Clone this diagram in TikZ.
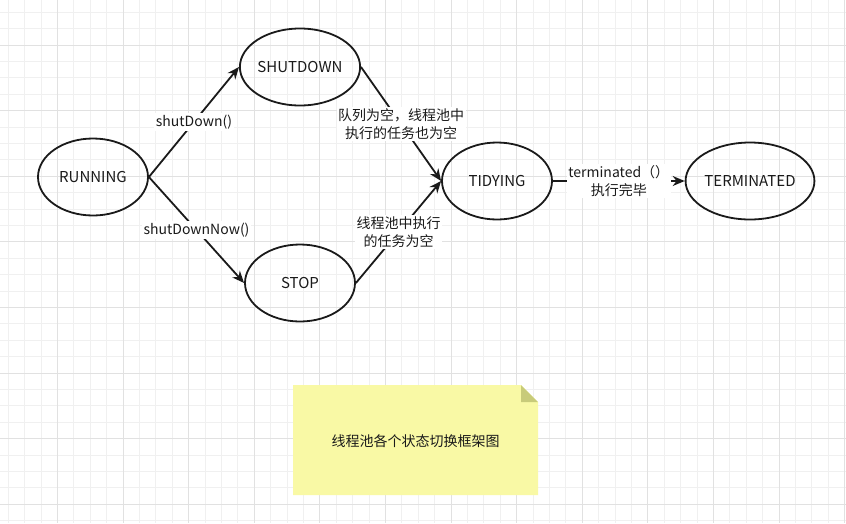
\documentclass[tikz,border=0pt]{standalone}
\usepackage{fontspec}
\setmainfont{Noto Sans CJK SC}
\usetikzlibrary{shapes.geometric,arrows.meta}
\definecolor{gridminor}{RGB}{240,240,240}
\definecolor{gridmajor}{RGB}{225,225,225}
\definecolor{notefill}{RGB}{249,249,165}
\definecolor{notefold}{RGB}{200,203,122}
\definecolor{inkline}{RGB}{26,26,26}

\begin{document}
\begin{tikzpicture}[x=1pt, y=-1pt,
        state/.style={draw=inkline, line width=1.8pt, ellipse, minimum width=110pt, minimum height=77pt, inner sep=0pt, text=inkline, font=\fontsize{15}{18}\selectfont},
        trans/.style={draw=inkline, line width=1.8pt, -{Stealth[length=12pt,width=10pt]}},
        cond/.style={fill=white, inner sep=1.5pt, align=center, text=inkline, font=\fontsize{14}{18}\selectfont}]
        \useasboundingbox[fill=white] (0,0) rectangle (846,523);

        % grid
        \foreach \gx in {8.1,24.5,...,846} \draw[gridminor, line width=0.8pt] (\gx,0) -- (\gx,523);
        \foreach \gy in {12.2,28.6,...,523} \draw[gridminor, line width=0.8pt] (0,\gy) -- (846,\gy);
        \foreach \gx in {57.3,122.9,...,846} \draw[gridmajor, line width=0.8pt] (\gx,0) -- (\gx,523);
        \foreach \gy in {45,110.6,...,523} \draw[gridmajor, line width=0.8pt] (0,\gy) -- (846,\gy);

        \node[state] (running) at (93, 177) {RUNNING};
        \node[state] (shutdown) at (300, 67) {SHUTDOWN};
        \node[state] (stop) at (300, 283) {STOP};
        \node[state] (tidying) at (497, 181) {TIDYING};
        \node[state, minimum width=125pt] (terminated) at (750, 181) {TERMINATED};

        \draw[trans] (running.east) -- node[cond] {shutDown()} (shutdown.west);
        \draw[trans] (running.east) -- node[cond] {shutDownNow()} (stop.west);
        \draw[trans] (shutdown.east) -- node[cond] {队列为空，线程池中\\执行的任务也为空} (tidying.west);
        \draw[trans] (stop.east) -- node[cond] {线程池中执行\\的任务为空} (tidying.west);
        \draw[trans] (tidying.east) -- node[cond] {terminated（）\\执行完毕} (terminated.west);

        % note
        \fill[notefill] (293, 385) -- (521, 385) -- (538, 402) -- (538, 495) -- (293, 495) -- cycle;
        \fill[notefold] (521, 385) -- (538, 402) -- (521, 402) -- cycle;
        \node[text=inkline, font=\fontsize{14}{18}\selectfont] (notetext) at (415.5, 441) {线程池各个状态切换框架图};
    \end{tikzpicture}
\end{document}
